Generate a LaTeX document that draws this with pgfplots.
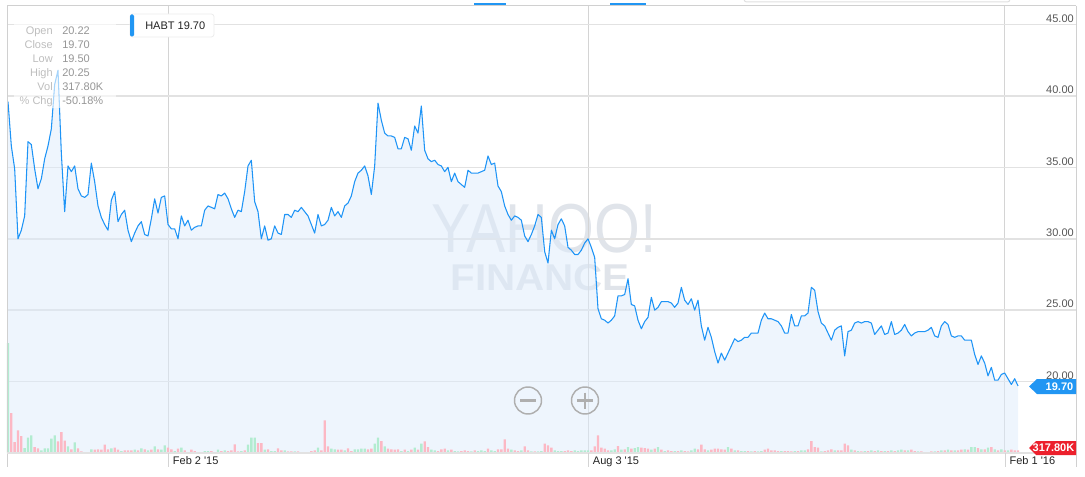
\documentclass[border=0pt]{standalone}
\usepackage{pgfplots}
\pgfplotsset{compat=1.18}
\usepackage{pgfplotstable}
\usepackage{fontspec}
\setmainfont{Liberation Sans}

\definecolor{linec}{RGB}{30,148,246}
\definecolor{fillc}{RGB}{221,235,251}
\definecolor{gridc}{RGB}{226,226,226}
\definecolor{vgridc}{RGB}{212,212,212}
\definecolor{framec}{RGB}{208,208,208}
\definecolor{volup}{RGB}{178,236,208}
\definecolor{voldn}{RGB}{252,184,196}
\definecolor{tagblue}{RGB}{33,150,243}
\definecolor{tagred}{RGB}{236,32,44}
\definecolor{wm}{RGB}{224,228,234}
\definecolor{infolab}{RGB}{190,190,190}
\definecolor{infoval}{RGB}{150,150,150}
\definecolor{ytxt}{RGB}{85,85,85}
\definecolor{xtxt}{RGB}{35,35,35}
\definecolor{btn}{RGB}{175,175,175}

% trading-day index (0 = 20 Nov 2014), closing price
\pgfplotstableread{
i close
0 39.6
1 36.5
2 34.9
3 30.0
4 30.6
5 31.6
6 36.8
7 36.6
8 34.9
9 33.5
10 34.2
11 35.6
12 36.5
13 37.7
14 40.8
15 41.8
16 36.0
17 31.9
18 35.1
19 34.7
20 35.1
21 33.5
22 33.0
23 32.9
24 33.1
25 35.3
26 34.0
27 32.3
28 31.5
29 31.0
30 30.6
31 32.7
32 33.3
33 31.2
34 31.7
35 32.0
36 30.6
37 29.8
38 30.4
39 30.9
40 31.2
41 30.3
42 30.2
43 31.4
44 32.8
45 31.8
46 32.9
47 33.0
48 31.0
49 30.7
50 30.7
51 30.0
52 31.6
53 30.9
54 31.3
55 30.6
56 30.8
57 30.9
58 30.9
59 32.0
60 32.3
61 32.2
62 32.1
63 33.1
64 33.0
65 33.2
66 32.8
67 32.1
68 31.5
69 32.0
70 31.9
71 33.3
72 35.1
73 35.5
74 32.6
75 31.9
76 30.0
77 30.9
78 29.9
79 30.0
80 30.9
81 30.4
82 30.3
83 31.7
84 31.7
85 31.5
86 32.0
87 31.9
88 32.2
89 31.9
90 31.6
91 31.0
92 30.4
93 31.7
94 30.9
95 31.0
96 31.3
97 32.2
98 31.6
99 31.9
100 31.5
101 32.3
102 32.5
103 33.0
104 34.0
105 34.6
106 34.8
107 35.1
108 34.4
109 33.1
110 35.1
111 39.5
112 38.3
113 37.4
114 37.2
115 37.2
116 37.1
117 36.3
118 36.3
119 37.1
120 37.0
121 36.2
122 37.9
123 37.4
124 39.3
125 36.2
126 35.6
127 35.4
128 35.5
129 35.2
130 35.1
131 34.7
132 35.0
133 34.0
134 34.6
135 34.0
136 33.8
137 33.6
138 34.8
139 34.6
140 34.6
141 34.6
142 34.7
143 34.8
144 35.8
145 35.2
146 35.3
147 33.7
148 33.3
149 32.3
150 31.7
151 31.3
152 31.6
153 31.5
154 31.3
155 30.2
156 29.8
157 30.3
158 30.9
159 31.7
160 31.5
161 29.1
162 28.3
163 30.6
164 30.0
165 31.0
166 31.4
167 30.9
168 29.4
169 29.2
170 28.9
171 28.9
172 29.2
173 29.7
174 30.0
175 29.4
176 28.7
177 25.1
178 24.4
179 24.3
180 24.1
181 24.3
182 24.6
183 26.0
184 26.0
185 26.1
186 27.2
187 25.4
188 25.3
189 24.3
190 23.7
191 24.2
192 24.5
193 25.9
194 25.0
195 25.2
196 25.6
197 25.6
198 25.6
199 25.5
200 25.2
201 25.5
202 26.6
203 25.7
204 25.4
205 25.8
206 25.0
207 25.7
208 23.9
209 22.9
210 23.8
211 23.1
212 22.1
213 21.3
214 22.0
215 21.5
216 22.0
217 22.5
218 23.0
219 22.8
220 22.9
221 23.1
222 23.1
223 23.4
224 23.4
225 23.4
226 24.3
227 24.8
228 24.4
229 24.4
230 24.3
231 24.2
232 23.9
233 23.4
234 23.4
235 24.7
236 23.9
237 23.9
238 24.6
239 24.6
240 24.8
241 26.6
242 26.4
243 24.9
244 24.1
245 23.9
246 23.4
247 22.9
248 23.6
249 23.8
250 23.9
251 21.8
252 23.5
253 23.6
254 24.1
255 24.2
256 24.1
257 24.2
258 24.2
259 24.1
260 23.3
261 23.6
262 23.9
263 23.3
264 23.4
265 24.2
266 23.3
267 23.4
268 23.6
269 24.0
270 23.5
271 23.2
272 23.4
273 23.5
274 23.5
275 23.5
276 23.6
277 23.8
278 23.2
279 23.1
280 23.9
281 24.2
282 24.0
283 23.2
284 23.1
285 23.2
286 23.2
287 22.9
288 22.9
289 22.9
290 21.9
291 21.2
292 21.8
293 21.3
294 20.4
295 21.0
296 20.1
297 20.1
298 20.5
299 20.6
300 20.2
301 19.8
302 20.2
303 19.7
}\pricetable

% volume (thousands of shares), up days
\pgfplotstableread{
i vol
0 13200
5 600
6 1836
7 2124
10 324
11 564
12 564
13 1716
14 2124
18 804
20 1284
23 120
24 120
25 444
31 564
34 240
38 396
40 564
42 324
44 804
46 396
47 924
50 240
52 636
57 120
59 240
60 240
62 120
63 396
65 324
70 240
72 996
73 1836
74 1836
77 396
79 240
80 240
83 324
86 204
88 120
89 120
90 120
93 636
97 516
98 444
101 324
104 444
105 444
106 516
107 516
110 1116
111 1836
113 804
118 240
120 240
122 636
124 1116
127 396
128 324
132 324
134 240
135 204
139 204
141 240
142 324
143 240
145 324
146 240
151 396
154 324
157 204
159 204
160 240
164 324
165 240
166 240
170 324
171 240
172 324
173 324
174 324
181 324
182 444
184 396
186 720
188 600
189 720
193 396
195 720
197 240
200 240
202 324
205 324
206 516
210 324
216 720
218 324
220 240
221 240
223 204
225 204
226 240
232 240
236 240
238 324
239 324
244 204
248 324
253 396
255 240
257 240
259 324
261 324
263 240
265 324
267 324
268 396
270 324
273 204
275 120
276 120
278 204
280 324
282 396
284 324
287 444
289 720
290 720
292 444
294 636
296 444
298 444
300 324
}\upvoltable

% volume (thousands of shares), down days
\pgfplotstableread{
i vol
1 4800
2 1320
3 2724
4 2040
8 720
9 564
15 1404
16 2520
17 1476
19 444
21 564
22 204
26 396
27 444
28 396
29 996
30 444
32 636
33 396
35 324
36 324
37 324
39 324
41 444
43 396
45 444
48 636
49 444
51 516
53 324
54 120
55 396
56 240
58 120
61 240
64 240
66 240
67 324
68 1044
69 204
71 324
75 1200
76 1200
78 444
81 564
82 324
84 204
85 204
87 204
91 240
92 324
94 324
95 3924
96 804
99 396
100 396
102 564
103 240
108 444
109 516
112 1440
114 516
115 444
116 396
117 444
119 396
121 396
123 396
125 1404
126 720
129 240
130 444
131 516
133 396
136 240
137 324
138 240
140 324
144 516
147 444
148 444
149 1644
150 516
152 324
153 240
155 804
156 324
158 204
161 1116
162 924
163 636
167 240
168 324
169 240
175 324
176 804
177 2124
178 636
179 516
180 324
183 840
185 444
187 516
190 636
191 600
192 516
194 516
196 396
198 324
199 240
201 240
203 240
204 204
207 444
208 996
209 444
211 396
212 516
213 516
214 444
215 396
217 516
219 324
222 240
224 240
227 396
228 516
229 324
230 324
231 240
233 240
234 240
235 204
237 240
240 444
241 1440
242 720
243 636
245 240
246 324
247 444
249 324
250 324
251 1116
252 924
254 324
256 204
258 240
260 240
262 240
264 240
266 240
269 324
271 396
272 240
274 204
277 204
279 240
281 324
283 324
285 324
286 396
288 396
291 600
293 444
295 720
297 324
299 324
301 396
302 324
303 318
}\dnvoltable

\begin{document}
\begin{tikzpicture}
\path[use as bounding box] (0,0) rectangle (813.75pt,-357.75pt);

% watermark (background)
\begin{scope}[x=0.75pt,y=-0.75pt]
  \node[text=wm, font=\fontsize{52}{52}\selectfont, xscale=0.85, inner sep=0] at (544,229) {YAHOO!};
  \node[text=wm, font=\fontsize{28}{28}\selectfont\bfseries, xscale=1.08, inner sep=0] at (540,278) {FINANCE};
\end{scope}

% price axis
\begin{axis}[
  at={(5.25pt,-339.75pt)}, anchor=south west,
  scale only axis, width=801.75pt, height=335.25pt,
  xmin=-0.3, xmax=320.4, ymin=15, ymax=46.3,
  axis line style={draw=none},
  xtick={48,174,299},
  xticklabels={Feb 2 \textquotesingle15, Aug 3 \textquotesingle15, Feb 1 \textquotesingle16},
  xticklabel style={anchor=north west, font=\fontsize{8.25}{9}\selectfont, text=xtxt, xshift=1.5pt, yshift=-0.8pt, inner sep=2pt},
  ytick={15,20,...,45},
  yticklabel pos=right,
  yticklabel style={anchor=south east, font=\fontsize{8.25}{9}\selectfont, text=ytxt, inner sep=1.5pt,
    /pgf/number format/.cd, fixed, fixed zerofill, precision=2, assume math mode=true},
  tick style={draw=none},
  xmajorgrids=true, ymajorgrids=true,
  x grid style={vgridc, line width=0.75pt},
  y grid style={gridc, line width=1.3pt},
]
\addplot[draw=none, fill=fillc, fill opacity=0.5] table[x=i,y=close]{\pricetable} \closedcycle;
\addplot[linec, line width=0.8pt, line join=round, mark=none] table[x=i,y=close]{\pricetable};
\end{axis}

% volume axis
\begin{axis}[
  at={(5.25pt,-339.75pt)}, anchor=south west,
  scale only axis, width=801.75pt, height=335.25pt,
  xmin=-0.3, xmax=320.4, ymin=0, ymax=53640,
  hide axis,
]
\addplot[ybar, bar width=1.75pt, bar shift=0pt, fill=volup, draw=none] table[x=i,y=vol]{\upvoltable};
\addplot[ybar, bar width=1.75pt, bar shift=0pt, fill=voldn, draw=none] table[x=i,y=vol]{\dnvoltable};
\end{axis}

\begin{scope}[x=0.75pt,y=-0.75pt]
  % frame
  \draw[framec, line width=0.75pt] (7,6) -- (1076,6);
  \draw[framec, line width=0.75pt] (7,6) -- (7,467);
  \draw[framec, line width=0.75pt] (1076,6) -- (1076,467);
  \draw[gridc, line width=1pt] (7,453) -- (1076,453);
  \foreach \xx in {168,588,1005.5} \draw[vgridc, line width=0.75pt] (\xx,453) -- (\xx,467);
  % top tabs
  \draw[tagblue, line width=1.5pt] (474,4) -- (506,4);
  \draw[tagblue, line width=1.5pt] (610,4) -- (646,4);
  \draw[gray!25, line width=0.75pt, rounded corners=2pt] (744,-4) -- (744,2) -- (1010,2) -- (1010,-4);
  % info panel
  \fill[white, opacity=0.6] (14,23) rectangle (116,108);
  \foreach \yy/\lab/\val in {35/Open/20.22, 49/Close/19.70, 63/Low/19.50, 77/High/20.25, 91/Vol/317.80K, 105/\% Chg/-50.18\%} {
    \node[anchor=base east, text=infolab, font=\fontsize{8.25}{9}\selectfont, inner sep=0] at (53,\yy) {\lab};
    \node[anchor=base west, text=infoval, font=\fontsize{8.25}{9}\selectfont, inner sep=0] at (62,\yy) {\val};
  }
  % legend box
  \draw[fill=white, draw=gray!15, line width=0.6pt, rounded corners=2pt] (130,14) rectangle (214,37);
  \fill[tagblue, rounded corners=1pt] (130,14.5) rectangle (134,36.5);
  \node[anchor=base west, font=\fontsize{8.25}{9}\selectfont, text=xtxt, inner sep=0] at (145,30) {HABT 19.70};
  % zoom buttons
  \draw[btn, line width=1.1pt] (528,400.5) circle (13.5);
  \draw[btn, line width=2pt] (520,400.5) -- (536,400.5);
  \draw[btn, line width=1.1pt] (585,400.5) circle (13.5);
  \draw[btn, line width=2pt] (577,400.5) -- (593,400.5) (585,392.5) -- (585,408.5);
  % price tags
  \fill[tagblue] (1029,386.5) -- (1037,379) -- (1076,379) -- (1076,394) -- (1037,394) -- cycle;
  \node[anchor=east, text=white, font=\fontsize{8.25}{9}\selectfont\bfseries, inner sep=0] at (1073.5,386.5) {19.70};
  \fill[tagred] (1029,448) -- (1036,441) -- (1076,441) -- (1076,455) -- (1036,455) -- cycle;
  \node[anchor=east, text=white, font=\fontsize{8.25}{9}\selectfont\bfseries, inner sep=0] at (1074.5,448) {317.80K};
\end{scope}
\end{tikzpicture}
\end{document}
